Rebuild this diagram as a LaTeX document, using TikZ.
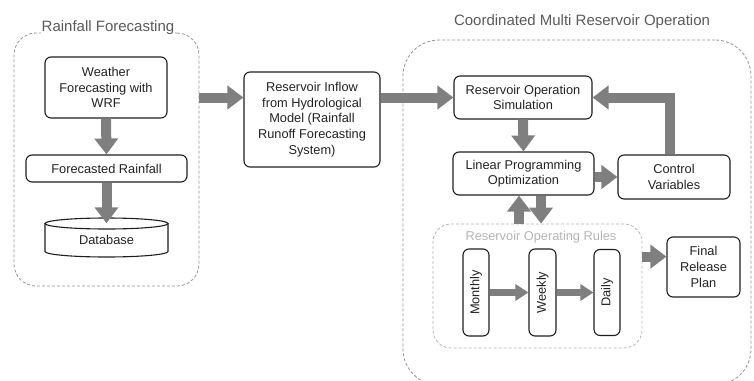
\documentclass[tikz,border=0pt]{standalone}
\usepackage{fontspec}
\setmainfont{Liberation Sans}
\usetikzlibrary{arrows.meta,calc}
\definecolor{arr}{HTML}{7F7F7F}
\definecolor{boxc}{HTML}{1E1E1E}
\definecolor{txt}{HTML}{222222}
\definecolor{contc}{HTML}{939393}
\definecolor{lightc}{HTML}{B4B4B4}
\definecolor{titc}{HTML}{5A5A5A}
\begin{document}
\begin{tikzpicture}[x=1pt,y=-1pt,
  box/.style={draw=boxc, line width=1.1pt, rounded corners=6pt, align=center,
    font=\fontsize{12.8}{15.6}\selectfont, text=txt, inner sep=0pt},
  big/.style={draw=arr, line width=10pt, -{Triangle[width=23pt,length=16pt]}},
  small/.style={draw=arr, line width=7pt, -{Triangle[width=16pt,length=13pt]}},
  cont/.style={draw=contc, dash pattern=on 3pt off 2pt, line width=0.8pt},
  titl/.style={font=\fontsize{15}{18}\selectfont, text=titc, inner sep=1pt},
]
\useasboundingbox (0,0) rectangle (754,380);

% containers
\node[cont, rounded corners=22pt, minimum width=185, minimum height=253] (rf) at (106.5,159.5) {};
\node[titl, fill=white] (rft) at (108,28) {Rainfall Forecasting};
\node[cont, rounded corners=36pt, minimum width=348, minimum height=345] (cm) at (577,212.5) {};
\node[titl] (cmt) at (582,22) {Coordinated Multi Reservoir Operation};
\node[cont, draw=lightc, rounded corners=18pt, minimum width=209, minimum height=124] (rules) at (537.5,286) {};
\node[font=\fontsize{12.8}{15.6}\selectfont, text=lightc, inner sep=0pt] (rulest) at (541,237) {Reservoir Operating Rules};

% left boxes
\node[box, minimum width=122, minimum height=61] (wx) at (106,87.5) {Weather\\Forecasting with\\WRF};
\node[box, minimum width=161, minimum height=27] (fr) at (106.5,168.5) {Forecasted Rainfall};
\node[font=\fontsize{12.8}{15.6}\selectfont, text=txt, inner sep=0pt, minimum width=123, minimum height=33] (db) at (106.5,240) {Database};
\draw[draw=boxc, line width=1.1pt] ($(db.center)+(0,-16.5)$) ellipse [x radius=61.5, y radius=5.5];
\draw[draw=boxc, line width=1.1pt] ($(db.center)+(-61.5,-16.5)$) -- ++(0,28)
  arc[start angle=180, end angle=0, x radius=61.5, y radius=5.5] -- ++(0,-28);

% middle and right boxes
\node[box, minimum width=136, minimum height=95] (inflow) at (312,119.5) {Reservoir Inflow\\from Hydrological\\Model (Rainfall\\Runoff Forecasting\\System)};
\node[box, minimum width=138, minimum height=43] (ros) at (523,97.5) {Reservoir Operation\\Simulation};
\node[box, minimum width=141, minimum height=43] (lp) at (523.5,173.5) {Linear Programming\\Optimization};
\node[box, minimum width=112, minimum height=44] (cv) at (674,177) {Control\\Variables};
\node[box, minimum width=73, minimum height=60] (frp) at (703.5,267) {Final\\Release\\Plan};
\node[box, rotate=90, minimum width=87, minimum height=26] (mon) at (476,292.5) {Monthly};
\node[box, rotate=90, minimum width=87, minimum height=27] (wk) at (542.5,292.5) {Weekly};
\node[box, rotate=90, minimum width=86, minimum height=26] (dly) at (607,292.5) {Daily};

% arrows
\draw[big] (wx.south) -- (fr.north);
\draw[big] (fr.south) -- (db.north);
\draw[big] (rf.east |- ros.west) -- (inflow.west |- ros.west);
\draw[big] (inflow.east |- ros.west) -- (ros.west);
\draw[big] (ros.south) -- (lp.north);
\draw[big] (lp.east |- cv.west) -- (cv.west);
\coordinate (cvx) at ($(cv.north)+(-4,0)$);
\draw[big, line join=miter] (cvx) |- (ros.east);
\coordinate (up1) at ($(lp.south)+(-4.5,0)$);
\coordinate (dn1) at ($(lp.south)+(17.5,0)$);
\draw[big] (up1 |- rules.north) -- (up1);
\draw[big] (dn1) -- (dn1 |- rules.north);
\coordinate (rr) at ($(rules.north east)+(0,33)$);
\draw[big] (rr) -- (frp.west |- rr);
\draw[small] (mon) -- (wk);
\draw[small] (wk) -- (dly);
\end{tikzpicture}
\end{document}
